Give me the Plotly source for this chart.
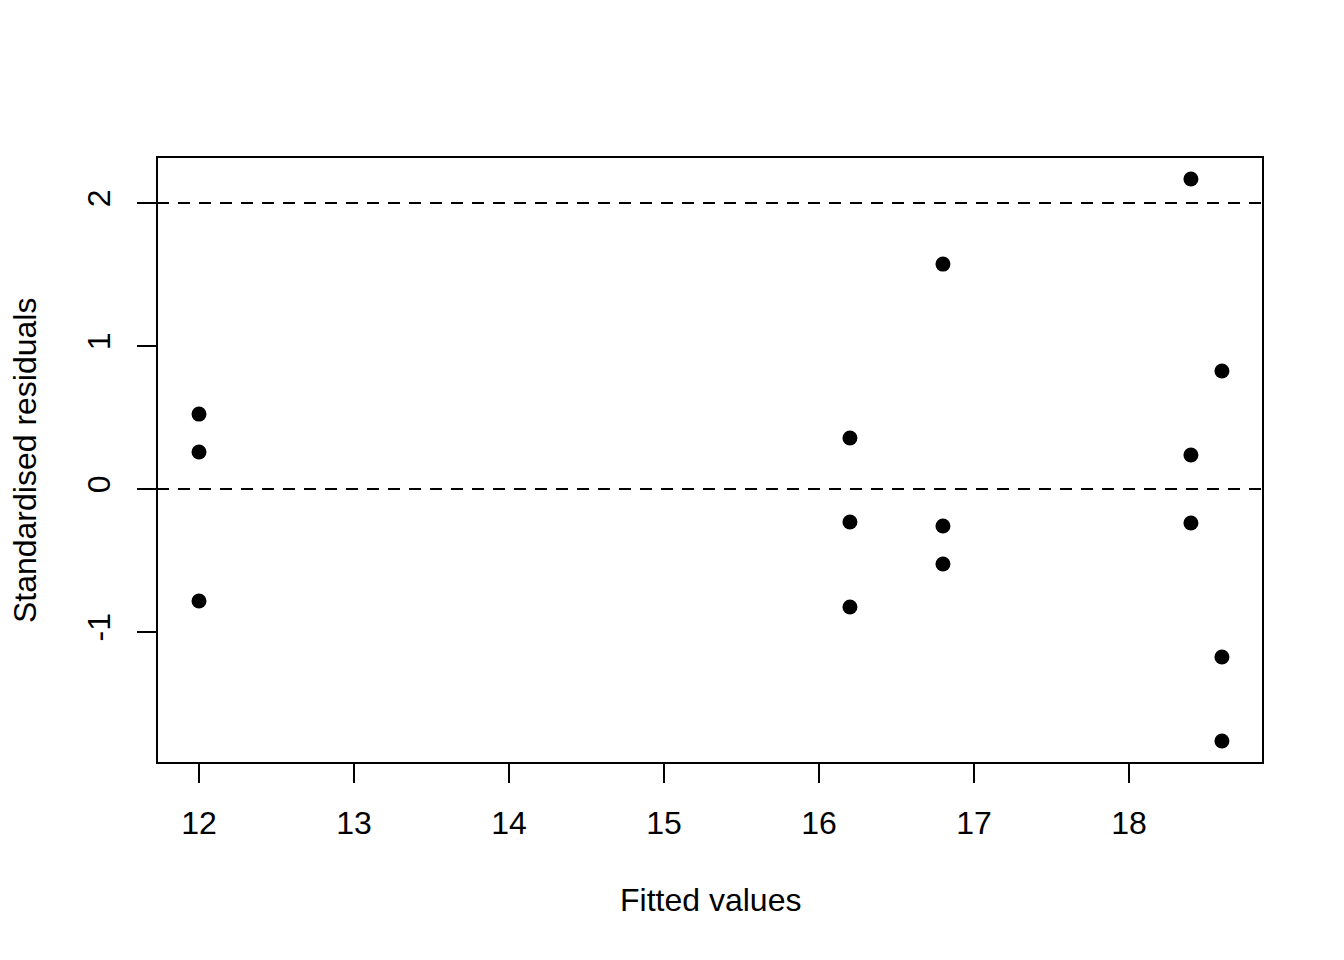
import plotly.graph_objects as go

fitted = [12.0, 12.0, 12.0, 16.2, 16.2, 16.2, 16.8, 16.8, 16.8, 18.4, 18.4, 18.4, 18.6, 18.6, 18.6]
std_resid = [0.524, 0.259, -0.783, 0.357, -0.231, -0.825, 1.573, -0.259, -0.524, 2.168, 0.238, -0.238, 0.825, -1.175, -1.762]
ref_lines = [0, 2]
x_ticks = [12, 13, 14, 15, 16, 17, 18]
y_ticks = [-1, 0, 1, 2]
y_tick_text = ["-1", "0", "1", "2"]

FONT = "Liberation Sans, Arial, sans-serif"

fig = go.Figure()
fig.add_trace(go.Scatter(x=fitted, y=std_resid, mode="markers",
                         marker=dict(color="black", size=15), showlegend=False))

for h in ref_lines:
    fig.add_shape(type="line", xref="paper", yref="y", x0=0, x1=1, y0=h, y1=h,
                  line=dict(color="black", width=2, dash="12px,9px"))

fig.add_shape(type="rect", xref="paper", yref="paper", x0=0, x1=1, y0=0, y1=1,
              line=dict(color="black", width=2), layer="above")

fig.add_annotation(text="Fitted values", xref="paper", yref="paper", x=0.5, y=-0.226,
                   showarrow=False, xanchor="center", yanchor="middle",
                   font=dict(family=FONT, size=32, color="black"))
fig.add_annotation(text="Standardised residuals", xref="paper", yref="paper", x=-0.1193, y=0.5,
                   showarrow=False, xanchor="center", yanchor="middle", textangle=-90,
                   font=dict(family=FONT, size=32, color="black"))

fig.update_layout(
    width=1344, height=960,
    margin=dict(l=157, r=81, t=157, b=197),
    plot_bgcolor="white", paper_bgcolor="white",
    font=dict(family=FONT, size=32, color="black"),
    xaxis=dict(range=[11.729, 18.865], tickvals=x_ticks, ticks="outside", ticklen=19,
               tickwidth=2, tickcolor="black", showgrid=False, zeroline=False,
               showline=False, ticklabelstandoff=13),
    yaxis=dict(range=[-1.916, 2.322], tickvals=y_ticks, ticktext=y_tick_text,
               ticks="outside", ticklen=19,
               tickwidth=2, tickcolor="black", showgrid=False, zeroline=False,
               showline=False, tickangle=-90, ticklabelstandoff=14),
)

fig.write_html("out.html")
